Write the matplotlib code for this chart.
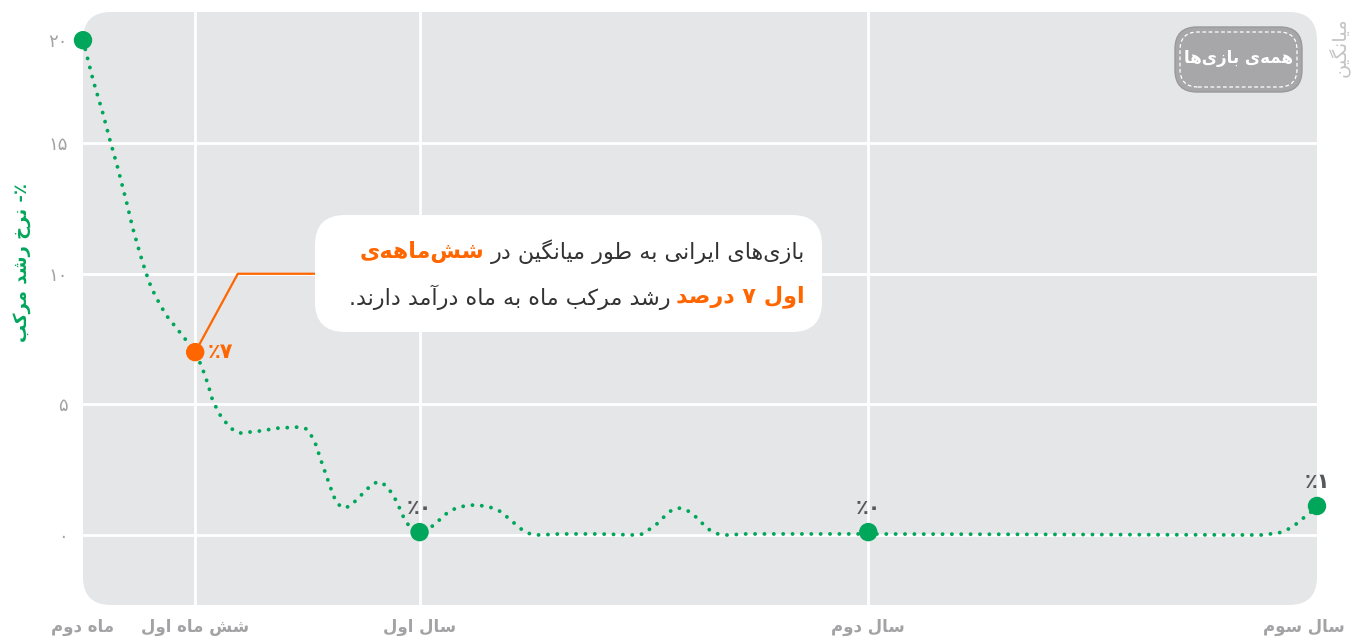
##
#  Compound monthly revenue growth of Iranian games (average of all games).
#

import matplotlib.pyplot as plt
from matplotlib.patches import FancyBboxPatch
from matplotlib.transforms import IdentityTransform, ScaledTranslation

W, H = 1354, 640
GREEN = '#00a65a'
ORANGE = '#ff6600'
GRAY = '#a3a3a5'
PANEL = '#e5e6e8'

# curve (month, growth %)
months = [3.00, 3.27, 3.53, 3.72, 3.93, 4.17, 4.33, 4.52, 4.66, 4.82,
          4.98, 5.22, 5.54, 5.86, 6.00, 6.18, 6.34, 6.47, 6.71, 6.98,
          7.19, 7.72, 8.21, 8.74, 8.98, 9.11, 9.22, 9.38, 9.54, 9.70,
          9.81, 9.97, 10.15, 10.31, 10.47, 10.63, 10.79, 10.96, 11.14, 11.25,
          11.38, 11.57, 11.68, 12.00, 12.40, 12.58, 12.77, 12.98, 13.20, 13.46,
          13.73, 13.97, 14.19, 14.37, 14.56, 14.75, 14.96, 15.20, 15.73, 16.80,
          17.74, 17.98, 18.16, 18.38, 18.56, 18.75, 18.96, 19.18, 19.39, 19.58,
          19.76, 19.98, 20.22, 20.73, 24.00, 34.50, 34.98, 35.19, 35.41, 35.60,
          35.81, 36.00]
growth = [18.94, 17.41, 16.15, 15.12, 14.05, 12.71, 11.75, 10.79, 10.14, 9.49,
          9.03, 8.42, 7.85, 7.27, 7.00, 6.43, 5.78, 5.13, 4.48, 4.06,
          3.90, 3.98, 4.09, 4.13, 4.06, 3.79, 3.48, 2.79, 2.14, 1.49,
          1.19, 1.03, 1.11, 1.34, 1.57, 1.80, 1.99, 2.03, 1.84, 1.61,
          1.30, 0.69, 0.42, 0.11, 0.38, 0.65, 0.88, 1.03, 1.11, 1.15,
          1.11, 1.03, 0.88, 0.65, 0.42, 0.19, 0.04, 0.00, 0.04, 0.04,
          0.00, 0.04, 0.23, 0.46, 0.73, 0.96, 1.03, 0.92, 0.69, 0.42,
          0.19, 0.04, 0.00, 0.04, 0.04, 0.00, 0.08, 0.19, 0.38, 0.61,
          0.84, 1.11]

point_months = [3, 6, 12, 24, 36]
point_growth = [18.94, 7.0, 0.11, 0.11, 1.11]
point_labels = ['', '۷٪', '۰٪', '۰٪', '۱٪']

x_ticks = [3, 6, 12, 24, 36]
x_labels = ['ماه دوم', 'شش ماه اول', 'سال اول', 'سال دوم', 'سال سوم']
y_ticks = [0, 5, 10, 15, 18.94]
y_labels = ['۰', '۵', '۱۰', '۱۵', '۲۰']
grid_y = [0, 5, 10, 15]
grid_x = [6, 12, 24]

y_title = '٪- نرخ رشد مرکب'
side_title = 'میانگین'
button_text = 'همه‌ی بازی‌ها'
note_1 = ['بازی‌های ایرانی به طور میانگین در', 'شش‌ماهه‌ی']
note_2 = ['اول ۷ درصد', 'رشد مرکب ماه به ماه درآمد دارند.']


# --- tiny persian shaper: matplotlib has no arabic shaping / bidi ---
DUAL = {'ب': 0xFE8F, 'ت': 0xFE95, 'ث': 0xFE99, 'ج': 0xFE9D, 'ح': 0xFEA1,
        'خ': 0xFEA5, 'س': 0xFEB1, 'ش': 0xFEB5, 'ص': 0xFEB9, 'ض': 0xFEBD,
        'ط': 0xFEC1, 'ظ': 0xFEC5, 'ع': 0xFEC9, 'غ': 0xFECD, 'ف': 0xFED1,
        'ق': 0xFED5, 'ل': 0xFEDD, 'م': 0xFEE1, 'ن': 0xFEE5, 'ه': 0xFEE9,
        'پ': 0xFB56, 'چ': 0xFB7A, 'ک': 0xFB8E, 'گ': 0xFB92, 'ی': 0xFBFC}
RIGHT = {'ا': 0xFE8D, 'آ': 0xFE81, 'د': 0xFEA9, 'ذ': 0xFEAB, 'ر': 0xFEAD,
         'ز': 0xFEAF, 'ژ': 0xFB8A, 'و': 0xFEED}


def shape(s):
    out = []
    for i, c in enumerate(s):
        if c in DUAL or c in RIGHT:
            base = DUAL.get(c, RIGHT.get(c))
            p = s[i - 1] if i > 0 else ''
            q = s[i + 1] if i + 1 < len(s) else ''
            jp = p in DUAL
            jn = c in DUAL and (q in DUAL or q in RIGHT)
            k = 3 if (jp and jn) else 1 if jp else 2 if jn else 0
            out.append(chr(base + k))
        elif c == '\u200c':
            continue
        else:
            out.append(c)
    return out


def fa(s):
    res, run = [], []
    for c in shape(s)[::-1]:
        if c.isdigit():
            run.append(c)
        else:
            res.extend(run[::-1])
            run = []
            res.append(c)
    res.extend(run[::-1])
    return ''.join(res)


def px(x, y):
    return x / W, 1 - y / H


plt.rcParams['font.family'] = ['DejaVu Sans']

fig = plt.figure(figsize=(W / 100, H / 100), dpi=100)
ax = fig.add_axes([83 / W, 35 / H, 1234 / W, 593 / H])
ax.set_facecolor('none')
for s in ax.spines.values():
    s.set_visible(False)

panel = FancyBboxPatch((83, 35), 1234, 593, boxstyle='round,pad=0,rounding_size=28',
                       transform=IdentityTransform(), fc=PANEL, ec='none', zorder=-5)
fig.add_artist(panel)

for g in grid_y:
    ax.axhline(g, color='white', lw=2, zorder=1)
for g in grid_x:
    ax.axvline(g, color='white', lw=2, zorder=1)

ax.plot(months, growth, color=GREEN, lw=2.8, linestyle=(0, (0.01, 2.4)),
        dash_capstyle='round', zorder=3, clip_on=False)
colors = [ORANGE if m == 6 else GREEN for m in point_months]
ax.scatter(point_months, point_growth, s=150, c=colors, zorder=5, clip_on=False)

for m, g, lab in zip(point_months, point_growth, point_labels):
    if not lab:
        continue
    if m == 6:
        ax.annotate(fa(lab), (m, g), xytext=(9, 0), textcoords='offset points',
                    ha='left', va='center', color=ORANGE, fontsize=15, fontweight='bold')
    else:
        ax.annotate(fa(lab), (m, g), xytext=(0, 10), textcoords='offset points',
                    ha='center', va='bottom', color='#58585a', fontsize=15, fontweight='bold')

# connector from the orange point to the note
ax.plot([6, 7.14, 9.2], [7.0, 10.0, 10.0], color=ORANGE, lw=1.6, zorder=4)

ax.set_xlim(3, 36)
ax.set_ylim(-2.68, 20.02)
ax.set_xticks(x_ticks, [fa(t) for t in x_labels])
ax.set_yticks(y_ticks, [fa(t) for t in y_labels])
ax.tick_params(length=0)
ax.tick_params(axis='x', pad=9, labelsize=12, labelcolor=GRAY)
ax.tick_params(axis='y', pad=11, labelsize=13, labelcolor=GRAY)
for t in ax.get_xticklabels():
    t.set_fontweight('bold')
last = ax.get_xticklabels()[-1]
last.set_ha('right')
last.set_transform(last.get_transform() + ScaledTranslation(0.28, 0, fig.dpi_scale_trans))

fig.text(*px(22, 262), fa(y_title), rotation=90, ha='center', va='center',
         color=GREEN, fontsize=13, fontweight='bold')
fig.text(*px(1340, 47), fa(side_title), rotation=90, ha='center', va='center',
         color='#c4c4c6', fontsize=14)

# "all games" button
fig.add_artist(FancyBboxPatch((1175, 548), 127, 65, boxstyle='round,pad=0,rounding_size=22',
                              transform=IdentityTransform(), fc='#a7a7a9', ec='#9a9a9c', lw=1))
fig.add_artist(FancyBboxPatch((1180, 553), 117, 55, boxstyle='round,pad=0,rounding_size=18',
                              transform=IdentityTransform(), fc='none', ec='white',
                              lw=0.9, ls=(0, (3, 2))))
fig.text(*px(1238, 58), fa(button_text), ha='center', va='center', color='white',
         fontsize=12, fontweight='bold')

# note box
fig.add_artist(FancyBboxPatch((315, 308), 507, 117, boxstyle='round,pad=0,rounding_size=30',
                              transform=IdentityTransform(), fc='white', ec='none', zorder=2))
t1 = fig.text(*px(805, 252), fa(note_1[0]), ha='right', va='center', color='#333333',
              fontsize=16, zorder=3)
t2 = fig.text(*px(805, 297), fa(note_2[0]), ha='right', va='center', color=ORANGE,
              fontsize=16, fontweight='bold', zorder=3)
fig.canvas.draw()
b1 = t1.get_window_extent()
b2 = t2.get_window_extent()
fig.text((b1.x0 - 6) / W, 1 - 252 / H, fa(note_1[1]), ha='right', va='center',
         color=ORANGE, fontsize=16, fontweight='bold', zorder=3)
fig.text((b2.x0 - 6) / W, 1 - 297 / H, fa(note_2[1]), ha='right', va='center',
         color='#333333', fontsize=16, zorder=3)

fig.savefig('out.png', dpi=100)
